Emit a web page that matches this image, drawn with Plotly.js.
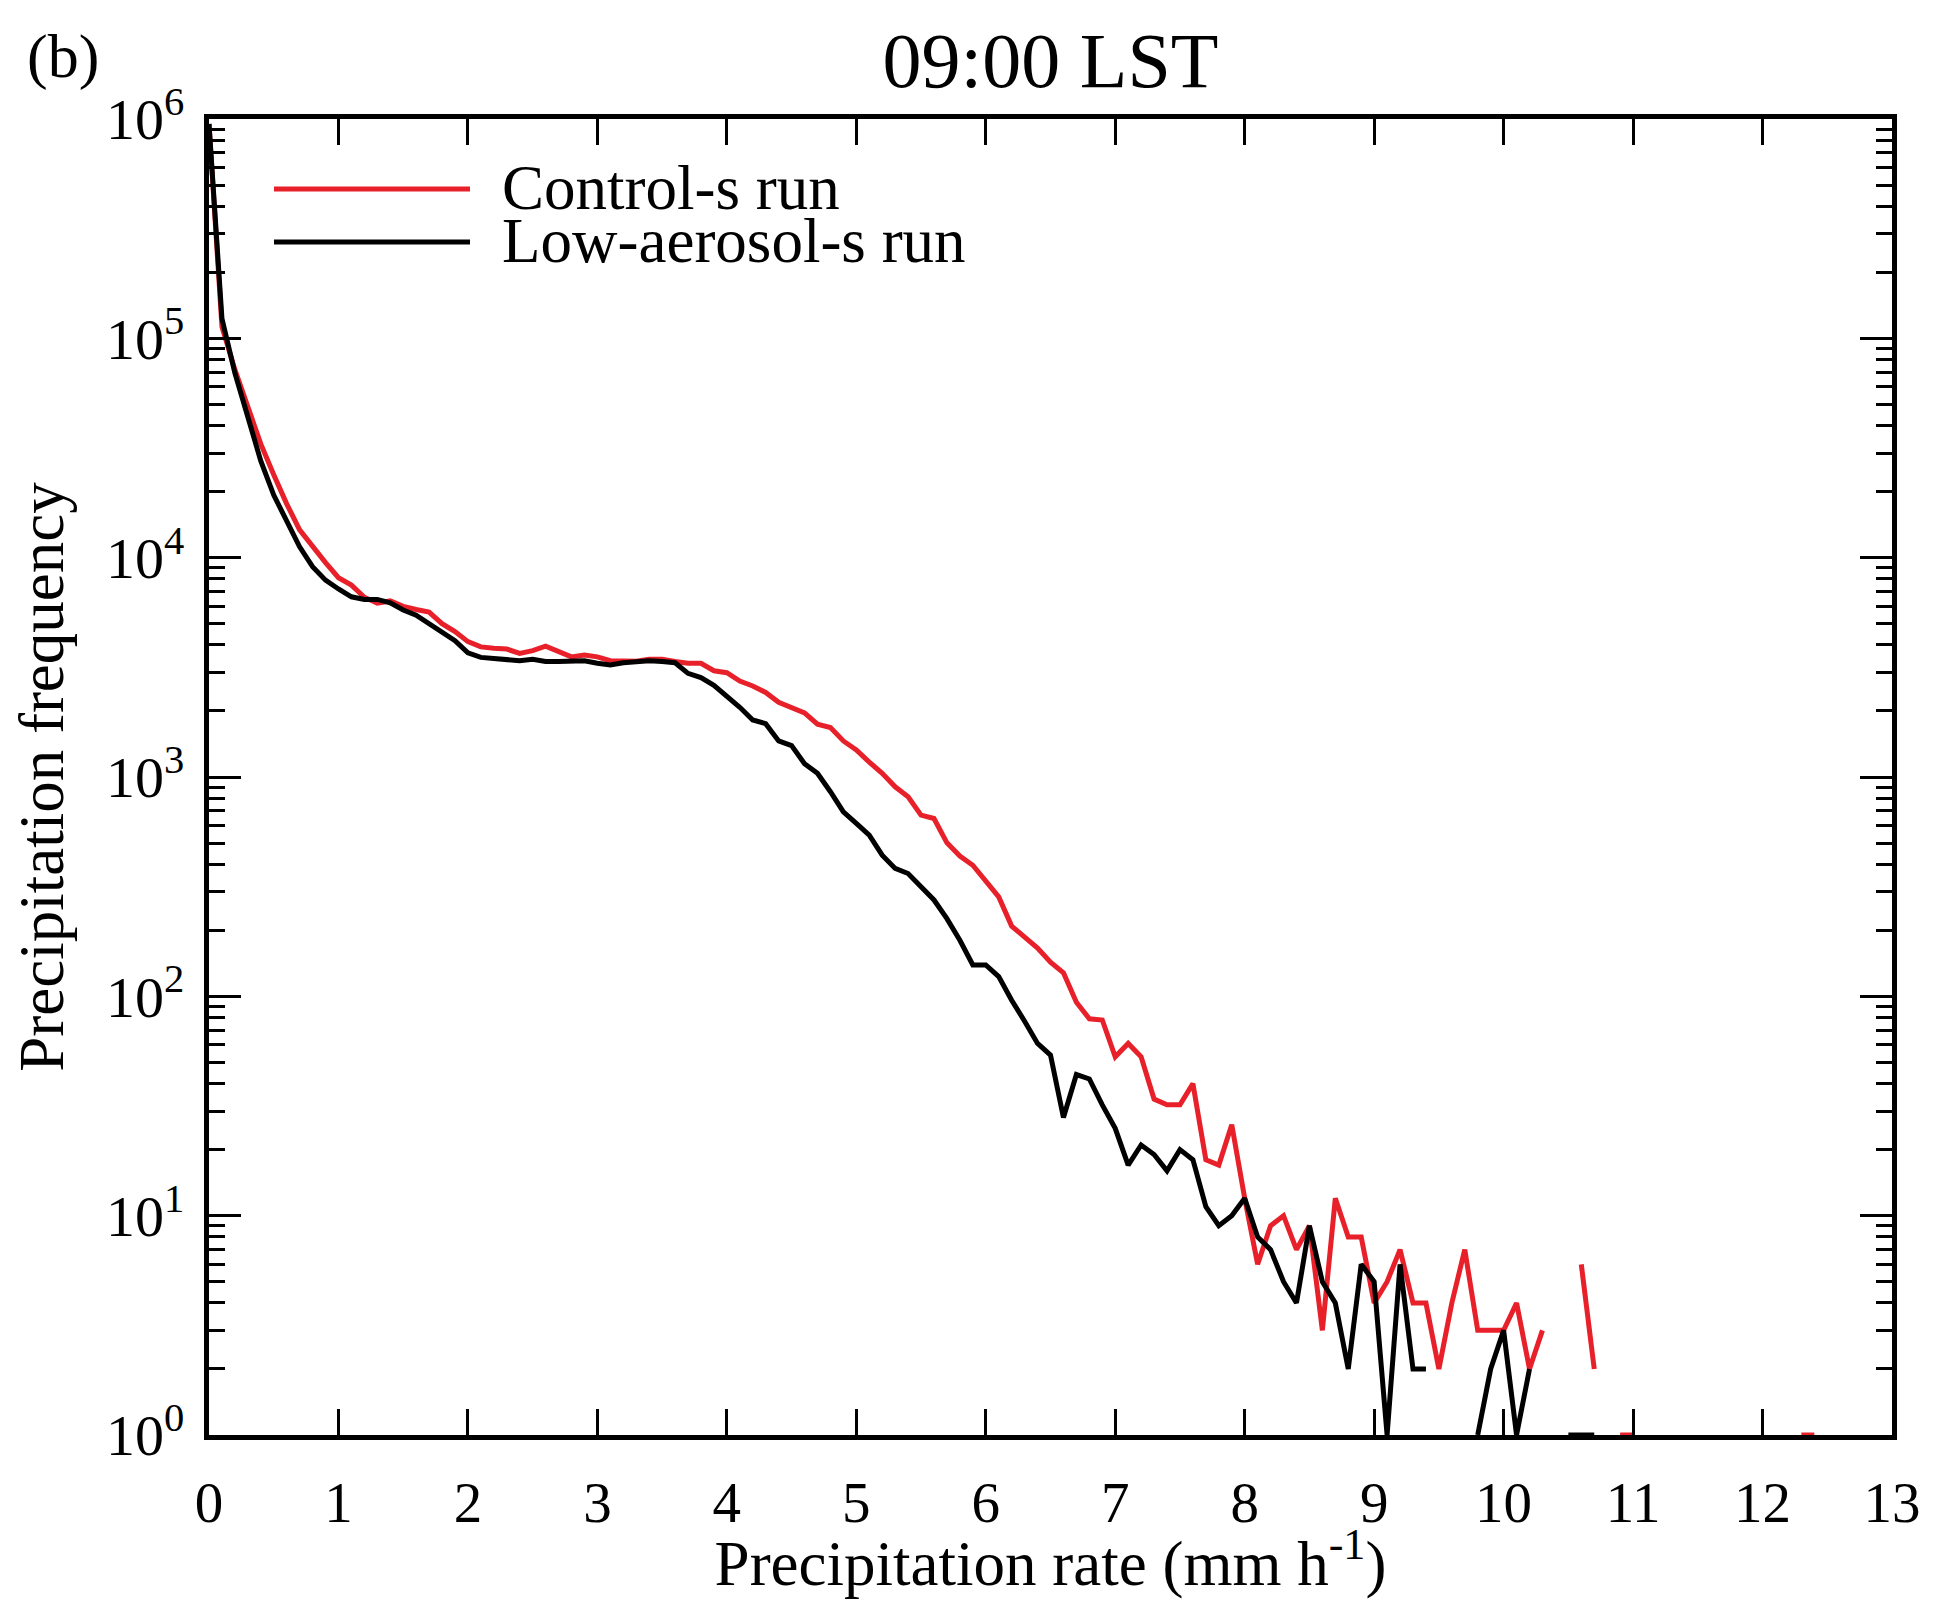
<!DOCTYPE html>
<html>
<head>
<meta charset="utf-8">
<script src="https://cdn.plot.ly/plotly-3.0.1.min.js"></script>
<style>html,body{margin:0;padding:0;background:#fff;}#chart{width:1940px;height:1599px;}</style>
</head>
<body>
<div id="chart"></div>
<script>
// Precipitation-rate bins (mm h^-1)
const rateBins = [
 0.0,0.1,0.2,0.3,0.4,0.5,0.6,0.7,0.8,0.9,
 1.0,1.1,1.2,1.3,1.4,1.5,1.6,1.7,1.8,1.9,
 2.0,2.1,2.2,2.3,2.4,2.5,2.6,2.7,2.8,2.9,
 3.0,3.1,3.2,3.3,3.4,3.5,3.6,3.7,3.8,3.9,
 4.0,4.1,4.2,4.3,4.4,4.5,4.6,4.7,4.8,4.9,
 5.0,5.1,5.2,5.3,5.4,5.5,5.6,5.7,5.8,5.9,
 6.0,6.1,6.2,6.3,6.4,6.5,6.6,6.7,6.8,6.9,
 7.0,7.1,7.2,7.3,7.4,7.5,7.6,7.7,7.8,7.9,
 8.0,8.1,8.2,8.3,8.4,8.5,8.6,8.7,8.8,8.9,
 9.0,9.1,9.2,9.3,9.4,9.5,9.6,9.7,9.8,9.9,
 10.0,10.1,10.2,10.3,10.4,10.5,10.6,10.7,10.8,10.9,
 11.0,11.1,11.2,11.3,11.4,11.5,11.6,11.7,11.8,11.9,
 12.0,12.1,12.2,12.3,12.4,12.5
];

// Control-s run frequency
const controlFreq = [
 950000,113000,72000,49000,33000,23900,17600,13400,11200,9500,
 8100,7500,6600,6200,6350,6000,5800,5650,5000,4600,
 4140,3920,3860,3830,3660,3770,3950,3720,3530,3600,
 3530,3390,3380,3370,3440,3440,3360,3300,3300,3050,
 2990,2740,2600,2430,2190,2080,1960,1740,1680,1460,
 1330,1170,1040,902,812,670,647,501,436,396,
 333,284,209,187,166,143,128,94,79,78,
 53,61,53,34,32,32,40,18,17,26,
 12,6,9,10,7,9,3,12,8,8,
 4,5,7,4,4,2,4,7,3,3,
 3,4,2,3,null,null,6,2,null,1,
 1,null,null,null,null,null,null,null,null,null,
 null,null,null,1,1,null
];

// Low-aerosol-s run frequency
const lowAerosolFreq = [
 950000,123000,69500,43500,27600,19300,14600,11200,9100,7900,
 7200,6630,6450,6450,6230,5770,5470,4980,4520,4180,
 3680,3510,3470,3440,3390,3440,3360,3360,3360,3390,
 3300,3240,3320,3360,3390,3360,3320,2970,2840,2620,
 2340,2080,1820,1750,1460,1390,1150,1040,857,694,
 614,543,440,383,363,316,275,226,180,139,
 139,123,96,77,61,54,28,44,42,32,
 25,17,21,19,16,20,18,11,9,10,
 12,8,7,5,4,9,5,4,2,6,
 5,1,6,2,2,null,null,null,1,2,
 3,1,2,null,null,1,1,1,null,null,
 null,null,null,null,null,null,null,null,null,null,
 null,null,null,null,null,null
];

const seriesNames = ['Control-s run', 'Low-aerosol-s run'];
const xTickVals = [0,1,2,3,4,5,6,7,8,9,10,11,12,13];
const yTickVals = [1,10,100,1000,10000,100000,1000000];
const yTickText = ['10<sup>0</sup>','10<sup>1</sup>','10<sup>2</sup>','10<sup>3</sup>','10<sup>4</sup>','10<sup>5</sup>','10<sup>6</sup>'];

const RED = '#E8202A';
const FONT = 'Liberation Serif, Times New Roman, serif';

const minorVals = [];
for (let d = 0; d < 6; d++) for (let k = 2; k <= 9; k++) minorVals.push(k * Math.pow(10, d));

const traces = [
  {x: rateBins, y: controlFreq, name: seriesNames[0], type: 'scatter', mode: 'lines',
   line: {color: RED, width: 5}, connectgaps: false, showlegend: false},
  {x: rateBins, y: lowAerosolFreq, name: seriesNames[1], type: 'scatter', mode: 'lines',
   line: {color: '#000', width: 5}, connectgaps: false, showlegend: false}
];

const L = 209, R = 1892, T = 119, B = 1435, W = 1940, H = 1599;
const pw = R - L, ph = B - T;
const px = v => (v - L) / pw;
const py = v => (B - v) / ph;

const layout = {
  width: W, height: H,
  paper_bgcolor: '#fff', plot_bgcolor: '#fff',
  margin: {l: L, r: W - R, t: T, b: H - B, pad: 0},
  font: {family: FONT, color: '#000'},
  showlegend: false,
  title: {text: '09:00 LST', font: {family: FONT, size: 78, color: '#000'},
          x: 0.5, xref: 'paper', xanchor: 'center', y: 1 - 60 / H, yref: 'container', yanchor: 'middle'},
  xaxis: {
    range: [0, 13], tickmode: 'array', tickvals: xTickVals, ticktext: xTickVals.map(String),
    ticks: 'inside', ticklen: 26, tickwidth: 3, tickcolor: '#000',
    showline: true, linewidth: 5, linecolor: '#000', mirror: 'ticks',
    showgrid: false, zeroline: false,
    tickfont: {family: FONT, size: 57, color: '#000'},
    ticklabelstandoff: 14,
    title: {text: 'Precipitation rate (mm h<sup>-1</sup>)', font: {family: FONT, size: 63, color: '#000'}, standoff: 8}
  },
  yaxis: {
    type: 'log', range: [0, 6], tickmode: 'array', tickvals: yTickVals, ticktext: yTickText,
    ticks: 'inside', ticklen: 32, tickwidth: 3, tickcolor: '#000',
    minor: {tickmode: 'array', tickvals: minorVals, ticks: 'inside', ticklen: 16, tickwidth: 3, tickcolor: '#000', showgrid: false},
    showline: true, linewidth: 5, linecolor: '#000', mirror: 'ticks',
    showgrid: false, zeroline: false,
    tickfont: {family: FONT, size: 58, color: '#000'},
    ticklabelstandoff: 8,
    title: {text: 'Precipitation frequency', font: {family: FONT, size: 63, color: '#000'}, standoff: 24}
  },
  shapes: [
    {type: 'line', xref: 'paper', yref: 'paper', x0: px(274), x1: px(470), y0: py(189), y1: py(189),
     line: {color: RED, width: 5}},
    {type: 'line', xref: 'paper', yref: 'paper', x0: px(274), x1: px(470), y0: py(242), y1: py(242),
     line: {color: '#000', width: 5}}
  ],
  annotations: [
    {text: seriesNames[0], xref: 'paper', yref: 'paper', x: px(500), y: py(188), xanchor: 'left', yanchor: 'middle',
     showarrow: false, font: {family: FONT, size: 63, color: '#000'}},
    {text: seriesNames[1], xref: 'paper', yref: 'paper', x: px(500), y: py(241), xanchor: 'left', yanchor: 'middle',
     showarrow: false, font: {family: FONT, size: 63, color: '#000'}},
    {text: '(b)', xref: 'paper', yref: 'paper', x: px(25), y: py(56), xanchor: 'left', yanchor: 'middle',
     showarrow: false, font: {family: FONT, size: 62, color: '#000'}}
  ]
};

Plotly.newPlot('chart', traces, layout, {staticPlot: true, displayModeBar: false});
</script>
</body>
</html>
